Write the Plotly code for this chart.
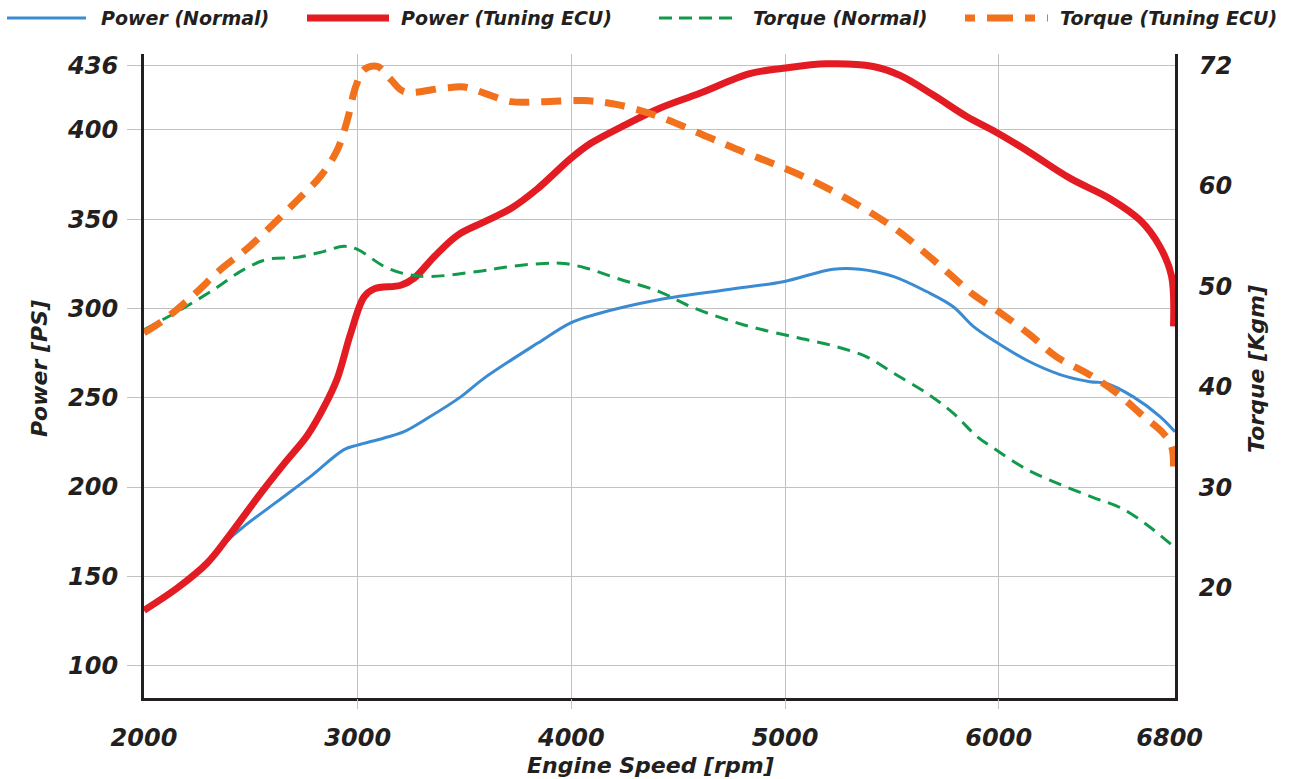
import plotly.graph_objects as go

# ---------------- data ----------------
rpm_power_tuning = [2000, 2156, 2296, 2406, 2546, 2655, 2765, 2843, 2905, 2967, 3030, 3077,
                    3202, 3264, 3358, 3467, 3592, 3717, 3841, 3997, 4091, 4247, 4411, 4601,
                    4835, 4991, 5194, 5413, 5538, 5694, 5850, 5984, 6131, 6333, 6521, 6661,
                    6755, 6809, 6818]
power_tuning = [131, 143.5, 157.5, 174, 196.5, 213, 229, 245, 261, 286, 306.5, 311,
                313, 317, 329, 341, 348.5, 356, 367, 384, 392.5, 402.5, 412, 420.5,
                431.5, 434.5, 437, 435.5, 430.5, 419.5, 407.5, 399, 388.5, 373, 361.5, 349.5,
                334.5, 318, 290]

rpm_power_normal = [2000, 2156, 2296, 2375, 2468, 2624, 2780, 2936, 2999, 3124, 3217, 3326,
                    3482, 3592, 3841, 3997, 4107, 4414, 4726, 4991, 5225, 5350, 5506,
                    5662, 5787, 5881, 5984, 6131, 6287, 6427, 6505, 6630, 6755, 6825]
power_normal = [131, 143.5, 157.5, 168.5, 178, 192, 206, 221, 223.5, 227.5, 231, 238.5,
                250.5, 261, 280.5, 292, 296.5, 305, 310.5, 315, 322, 322, 318,
                309.5, 301, 290, 281.5, 271, 263, 259, 258, 250.5, 239.5, 231]

rpm_torque_tuning = [2000, 2094, 2234, 2359, 2484, 2609, 2718, 2827, 2905, 2952, 2991, 3030,
                     3092, 3155, 3217, 3404, 3498, 3592, 3717, 3873, 4060, 4216, 4411, 4648,
                     4804, 4960, 5101, 5241, 5382, 5522, 5647, 5772, 5881, 6006, 6146, 6271,
                     6427, 6552, 6677, 6770, 6809, 6818]
torque_tuning = [45.4, 46.7, 49.2, 51.7, 53.8, 56.3, 58.6, 61.0, 63.6, 66.6, 69.9, 71.6,
                 71.9, 70.6, 69.4, 69.75, 69.85, 69.25, 68.4, 68.4, 68.5, 68.1, 66.9, 64.8,
                 63.4, 62.1, 60.8, 59.3, 57.6, 55.65, 53.5, 51.2, 49.2, 47.4, 45.2, 43.0,
                 41.2, 39.4, 37.1, 35.4, 34.1, 31.8]

rpm_torque_normal = [2000, 2156, 2312, 2468, 2577, 2718, 2843, 2936, 2999, 3124, 3233, 3342,
                     3561, 3717, 3873, 3966, 4075, 4216, 4411, 4570, 4804, 5038, 5225, 5382,
                     5506, 5662, 5787, 5897, 5984, 6131, 6287, 6443, 6568, 6693, 6825]
torque_normal = [45.7, 47.5, 49.5, 51.7, 52.7, 52.9, 53.5, 54.0, 53.7, 52.0, 51.2, 51.0,
                 51.5, 52.0, 52.3, 52.3, 51.8, 50.8, 49.5, 47.9, 46.2, 45.0, 44.1, 43.0,
                 41.4, 39.4, 37.4, 35.1, 33.8, 31.8, 30.3, 29.0, 28.0, 26.3, 24.0]

x_ticks = [2000, 3000, 4000, 5000, 6000, 6800]
x_grid = [3000, 4000, 5000, 6000]
power_ticks = [100, 150, 200, 250, 300, 350, 400, 436]
torque_ticks = [20, 30, 40, 50, 60, 72]
x_range = [2000, 6825]

series_names = ["Power (Normal)", "Power (Tuning ECU)", "Torque (Normal)", "Torque (Tuning ECU)"]

# ---------------- styling ----------------
FONT = "DejaVu Sans"
INK = "#231f20"
GRID = "#c2c2c2"
C_BLUE = "#3a8bd2"
C_RED = "#e31b23"
C_GREEN = "#129a4c"
C_ORANGE = "#f2711c"

W, H = 1306, 779
L, R, T, B = 144, 131, 54, 81


def px_x(p):
    return (p - L) / (W - L - R)


def px_y(p):
    return (H - B - p) / (H - T - B)


def bfont(size, color=INK):
    return dict(family=FONT, size=size, color=color, weight="bold", style="italic")


fig = go.Figure()

fig.add_trace(go.Scatter(x=rpm_power_normal, y=power_normal, mode="lines",
                         name=series_names[0],
                         line=dict(color=C_BLUE, width=3, shape="spline", smoothing=1.0)))
fig.add_trace(go.Scatter(x=rpm_power_tuning, y=power_tuning, mode="lines",
                         name=series_names[1],
                         line=dict(color=C_RED, width=7, shape="spline", smoothing=1.0)))
fig.add_trace(go.Scatter(x=rpm_torque_normal, y=torque_normal, xaxis="x2", yaxis="y2", mode="lines",
                         name=series_names[2],
                         line=dict(color=C_GREEN, width=3, dash="13px,8px", shape="spline", smoothing=1.0)))
fig.add_trace(go.Scatter(x=rpm_torque_tuning, y=torque_tuning, xaxis="x2", yaxis="y2", mode="lines",
                         name=series_names[3],
                         line=dict(color=C_ORANGE, width=7, dash="20px,12px", shape="spline", smoothing=1.0)))

fig.update_layout(
    width=W, height=H,
    margin=dict(l=L, r=R, t=T, b=B, pad=0),
    paper_bgcolor="white", plot_bgcolor="white",
    showlegend=False,
    xaxis=dict(range=x_range, tickvals=x_ticks, ticktext=[str(v) for v in x_ticks],
               showgrid=False, zeroline=False,
               ticks="outside", ticklen=10, tickcolor="rgba(0,0,0,0)", tickwidth=1,
               ticklabelstandoff=6,
               showline=True, linecolor=INK, linewidth=3,
               tickfont=bfont(24)),
    xaxis2=dict(range=x_range, tickvals=x_grid, overlaying="x", side="bottom", anchor="y",
                showgrid=True, gridcolor=GRID, gridwidth=1, zeroline=False,
                ticks="outside", ticklen=10, tickcolor=GRID, tickwidth=1,
                showticklabels=False, showline=False),
    yaxis=dict(range=[81.9, 442.5], tickvals=power_ticks, ticktext=[str(v) for v in power_ticks],
               showgrid=True, gridcolor=GRID, gridwidth=1, zeroline=False,
               ticks="outside", ticklen=14, tickcolor=GRID, tickwidth=1,
               ticklabelstandoff=4,
               showline=True, linecolor=INK, linewidth=3,
               tickfont=bfont(24)),
    yaxis2=dict(range=[9.05, 73.14], tickvals=torque_ticks, ticktext=[str(v) for v in torque_ticks],
                overlaying="y", side="right", anchor="x", showgrid=False, zeroline=False,
                ticks="outside", ticklen=12, tickcolor="rgba(0,0,0,0)",
                ticklabelstandoff=4,
                showline=True, linecolor=INK, linewidth=3,
                tickfont=bfont(24)),
)

# axis titles
fig.add_annotation(text="Engine Speed [rpm]", xref="paper", yref="paper",
                   x=px_x(650), y=px_y(765), xanchor="center", yanchor="middle",
                   showarrow=False, font=bfont(22))
fig.add_annotation(text="Power [PS]", xref="paper", yref="paper",
                   x=px_x(40), y=px_y(369), xanchor="center", yanchor="middle",
                   textangle=-90, showarrow=False, font=bfont(22))
fig.add_annotation(text="Torque [Kgm]", xref="paper", yref="paper",
                   x=px_x(1257), y=px_y(369), xanchor="center", yanchor="middle",
                   textangle=-90, showarrow=False, font=bfont(22))

# legend (drawn as a top row)
legend_items = [
    (series_names[0], C_BLUE, 3, "solid", 7, 86, 99),
    (series_names[1], C_RED, 7, "solid", 307, 389, 399),
    (series_names[2], C_GREEN, 3, "13px,7px", 659, 733, 751),
    (series_names[3], C_ORANGE, 7, "10px,12px,26px,12px", 965, 1048, 1058),
]
ly = px_y(18)
for name, col, wdt, dsh, x0, x1, xt in legend_items:
    fig.add_shape(type="line", xref="paper", yref="paper",
                  x0=px_x(x0), x1=px_x(x1), y0=ly, y1=ly,
                  line=dict(color=col, width=wdt, dash=dsh))
    fig.add_annotation(text=name, xref="paper", yref="paper",
                       x=px_x(xt), y=ly, xanchor="left", yanchor="middle",
                       showarrow=False, font=bfont(19))

fig.write_html("out.html", config={"displayModeBar": False},
               post_script="document.body.style.margin='0';document.body.style.overflow='hidden';")
